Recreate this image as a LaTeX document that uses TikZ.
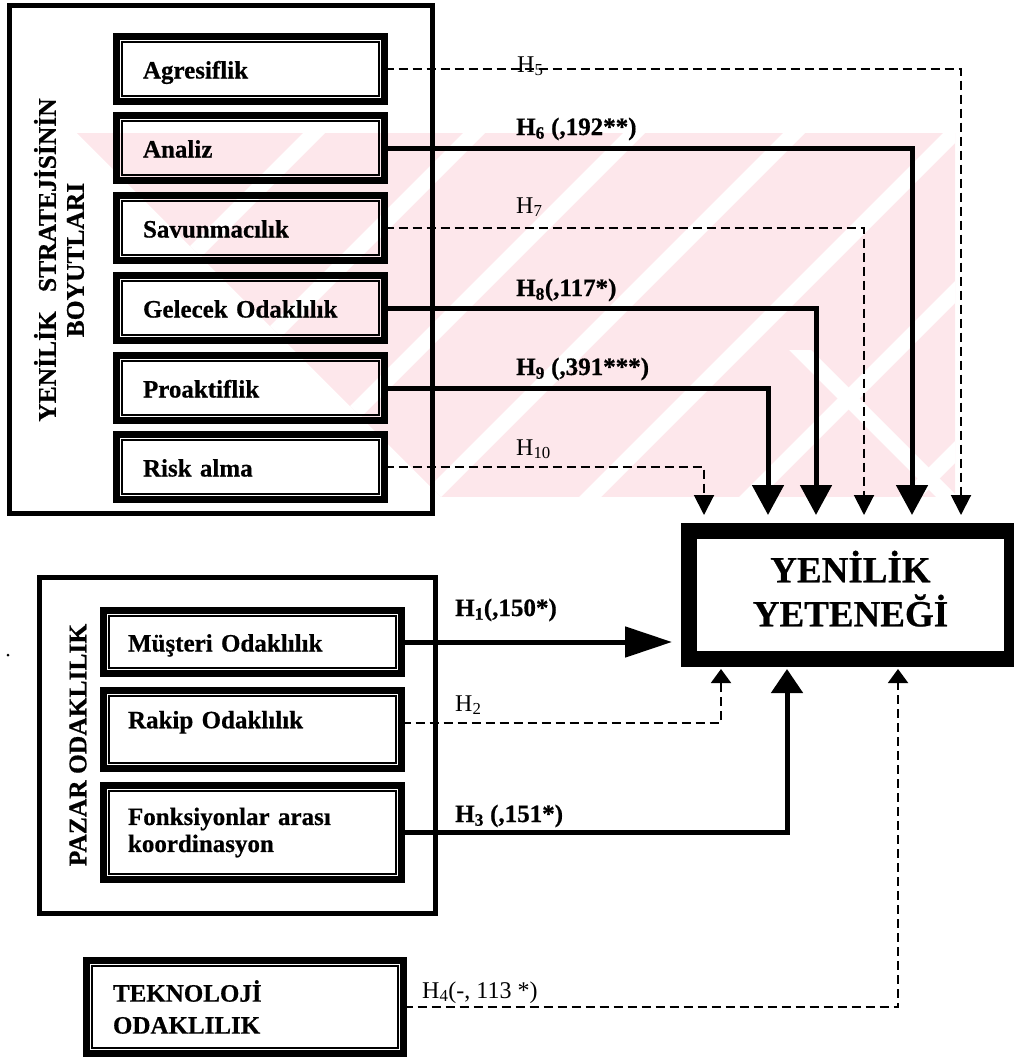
\documentclass[tikz,border=0pt]{standalone}
\usepackage{fontspec}
\setmainfont{Liberation Serif}[BoldFeatures={FakeBold=0.6}]
\usetikzlibrary{arrows.meta}

\definecolor{wmark}{RGB}{253,231,235}

\begin{document}
\begin{tikzpicture}[x=1pt,y=-1pt,
  framebox/.style={draw, line width=5pt, inner sep=0pt, outer sep=0pt},
  itembox/.style={draw, line width=7pt, inner sep=0pt, outer sep=0pt,
    align=left, font=\fontsize{25}{27}\selectfont\bfseries},
  oneline/.style={text height=19pt, text depth=0pt},
  topitem/.style={itembox, oneline, minimum width=268pt, minimum height=65pt, text width=215pt},
  lowitem/.style={itembox, minimum width=298pt, text width=249pt},
  innerline/.style={draw, line width=1.6pt},
  goalbox/.style={draw, line width=16pt, inner sep=0pt, outer sep=0pt, align=center,
    font=\fontsize{37}{44}\selectfont\bfseries},
  vtitle/.style={rotate=90, align=center, inner sep=0pt, font=\fontsize{25.5}{28}\selectfont\bfseries},
  solidlink/.style={line width=5pt},
  dashlink/.style={line width=2pt, dash pattern=on 9pt off 5pt},
  bigtip/.style={-{Triangle[width=31pt,length=30pt]}},
  smalltip/.style={-{Triangle[width=20pt,length=20pt]}},
  uptip/.style={-{Triangle[width=31pt,length=24pt]}},
  uptipsmall/.style={-{Triangle[width=20pt,length=14pt]}},
  longtip/.style={-{Triangle[width=30pt,length=47pt]}},
  hb/.style={anchor=base west, inner sep=0pt, font=\fontsize{25}{25}\selectfont\bfseries},
  hn/.style={anchor=base west, inner sep=0pt, font=\fontsize{24}{24}\selectfont}
]
\useasboundingbox (0,0) rectangle (1013,1060);

% faint background stamp behind the upper group
\begin{scope}
  \clip (77,133) -- (955,133) -- (955,497) -- (441,497) -- cycle;
  \fill[wmark] (0,133) rectangle (1013,497);
  \foreach \c in {447,607,767,927,1087,1247,1407}
    \fill[white] (\c-497-11,497) -- (\c-497+11,497) -- (\c-133+11,133) -- (\c-133-11,133) -- cycle;
  \fill[white] (789,350) -- (811,350) -- (958,497) -- (936,497) -- cycle;
\end{scope}

% stray mark
\fill (8,655) circle (1.5);

% ---------- strategy dimensions ----------
\node[framebox, minimum width=423pt, minimum height=507.5pt] (dims) at (221,259.25) {};
\node[vtitle] (dimtitle) at (59,260) {YENİLİK\hspace{0.75em}STRATEJİSİNİN\\BOYUTLARI};

\node[topitem] (agr)  at (250.5,69)  {Agresiflik};
\node[topitem] (ana)  at (250.5,148) {Analiz};
\node[topitem] (sav)  at (250.5,228) {Savunmacılık};
\node[topitem] (gel)  at (250.5,308) {Gelecek Odaklılık};
\node[topitem] (pro)  at (250.5,388) {Proaktiflik};
\node[topitem] (risk) at (250.5,467) {Risk alma};

% ---------- market orientation ----------
\node[framebox, minimum width=396pt, minimum height=335.5pt] (mkt) at (237.5,745.25) {};
\node[vtitle] (mkttitle) at (78,745) {PAZAR ODAKLILIK};

\node[lowitem, oneline, minimum height=63pt] (mus) at (252.5,642) {Müşteri Odaklılık};
\node[lowitem, text height=19pt, text depth=21.5pt, minimum height=78pt] (rak) at (252.5,729.5) {Rakip Odaklılık};
\node[lowitem, minimum height=94pt] (fon) at (252.5,832.5) {Fonksiyonlar arası\\koordinasyon};

% ---------- technology orientation ----------
\node[itembox, font=\fontsize{25}{32}\selectfont\bfseries, minimum width=317pt, minimum height=93pt, text width=264pt] (tek) at (245,1007) {TEKNOLOJİ\\ODAKLILIK};

% inner rules of the double-framed boxes
\foreach \n in {agr,ana,sav,gel,pro,risk,mus,rak,fon,tek}
  \draw[innerline] ([xshift=5.5pt,yshift=-5.5pt]\n.north west) rectangle ([xshift=-5.5pt,yshift=5.5pt]\n.south east);

% ---------- innovation capability ----------
\node[goalbox, minimum width=323pt, minimum height=128pt] (goal) at (850.5,595)
  {YENİLİK\\YETENEĞİ\rule[-13pt]{0pt}{13pt}};

% arrow end points at the goal box
\coordinate (t5)  at (961,515);
\coordinate (t6)  at (912,515);
\coordinate (t7)  at (864,515);
\coordinate (t8)  at (816,515);
\coordinate (t9)  at (768,515);
\coordinate (t10) at (704,515);
\coordinate (t1)  at (672,642);
\coordinate (t2)  at (721,669);
\coordinate (t3)  at (787,669);
\coordinate (t4)  at (898,669);

% hypotheses H5--H10
\draw[dashlink, smalltip]  (agr.east)  -| (t5);
\draw[solidlink, bigtip]   (ana.east)  -| (t6);
\draw[dashlink, smalltip]  (sav.east)  -| (t7);
\draw[solidlink, bigtip]   (gel.east)  -| (t8);
\draw[solidlink, bigtip]   (pro.east)  -| (t9);
\draw[dashlink, smalltip]  (risk.east) -| (t10);

% hypotheses H1--H4
\draw[solidlink, longtip]  (mus.east) -- (t1);
\draw[dashlink, uptipsmall] ([yshift=7pt]rak.east) -| (t2);
\draw[solidlink, uptip]    (fon.east) -| (t3);
\draw[dashlink, uptipsmall] (tek.east) -| (t4);

% labels
\node[hn] (l5)  at (517,72)  {H\textsubscript{5}};
\node[hb] (l6)  at (516,135) {H\textsubscript{6} (,192**)};
\node[hn] (l7)  at (516,213) {H\textsubscript{7}};
\node[hb] (l8)  at (516,296) {H\textsubscript{8}(,117*)};
\node[hb] (l9)  at (516,375) {H\textsubscript{9} (,391***)};
\node[hn] (l10) at (516,455) {H\textsubscript{10}};
\node[hb] (l1)  at (455,616) {H\textsubscript{1}(,150*)};
\node[hn] (l2)  at (455,711) {H\textsubscript{2}};
\node[hb] (l3)  at (455,822) {H\textsubscript{3} (,151*)};
\node[hn] (l4)  at (422,998) {H\textsubscript{4}(-, 113 *)};
\end{tikzpicture}
\end{document}
